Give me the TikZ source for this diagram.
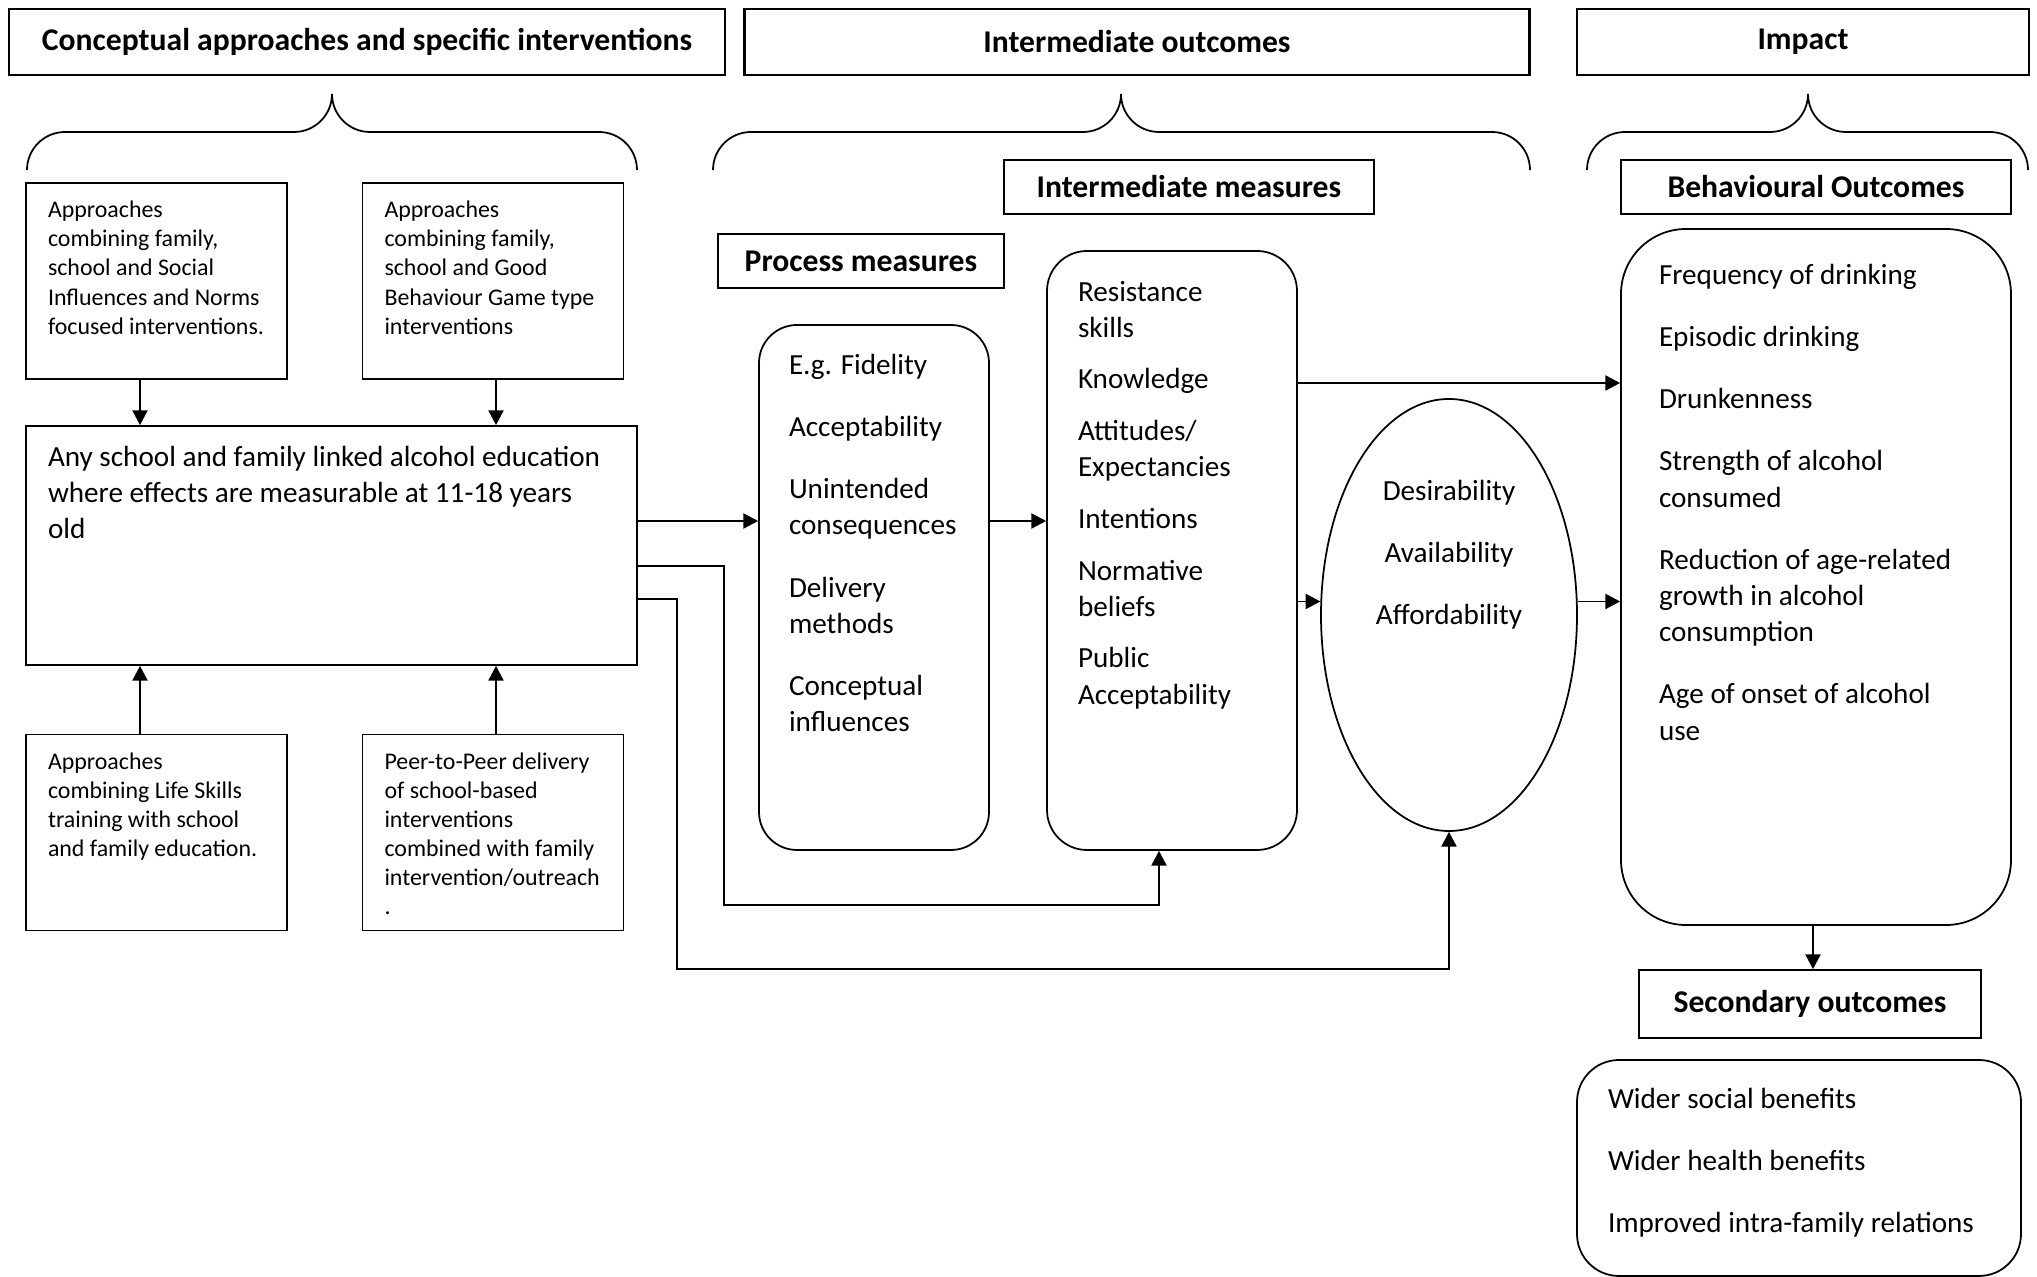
\documentclass[tikz,border=0pt]{standalone}
\usepackage{fontspec}
\setmainfont{Carlito}
\usepackage{tikz}
\usetikzlibrary{positioning, arrows.meta, shapes.geometric}

\begin{document}
\begin{tikzpicture}[line width=0.5pt,
    header/.style={draw, line width=0.7pt, font=\bfseries\fontsize{9}{11}\selectfont, minimum height=0.66cm, inner sep=0pt},
    tagbox/.style={draw, font=\bfseries\fontsize{9}{11}\selectfont, minimum height=0.54cm, inner sep=0pt},
    approach/.style={draw, minimum width=2.61cm, minimum height=1.96cm, inner sep=0pt},
    smalltext/.style={font=\fontsize{6.8}{8.3}\selectfont, align=left, inner sep=0pt},
    itemtext/.style={font=\fontsize{8.3}{10.3}\selectfont, align=left, inner sep=0pt},
    roundbox/.style={draw, rounded corners=0.38cm, inner sep=0pt},
    arr/.style={-{Triangle[length=4.2pt, width=4.3pt]}}]
    \useasboundingbox (0,0) rectangle (20.37,-12.77);

    % Headers
    \node[header, minimum width=7.16cm] (conc) at (3.67,-0.42) {Conceptual approaches and specific interventions};
    \node[header, minimum width=7.85cm] (interout) at (11.37,-0.42) {Intermediate outcomes};
    \node[header, minimum width=4.52cm] (impact) at (18.03,-0.42) {Impact};

    % Braces
    \draw[rounded corners=0.38cm] (0.27,-1.70) |- (3.32,-1.32) -- (3.32,-0.94);
    \draw[rounded corners=0.38cm] (6.37,-1.70) |- (3.32,-1.32) -- (3.32,-0.94);
    \draw[rounded corners=0.38cm] (7.13,-1.70) |- (11.21,-1.32) -- (11.21,-0.94);
    \draw[rounded corners=0.38cm] (15.30,-1.70) |- (11.21,-1.32) -- (11.21,-0.94);
    \draw[rounded corners=0.38cm] (15.87,-1.70) |- (18.08,-1.32) -- (18.08,-0.94);
    \draw[rounded corners=0.38cm] (20.28,-1.70) |- (18.08,-1.32) -- (18.08,-0.94);

    % Approaches
    \node[approach] (famsoc) at (1.565,-2.81) {};
    \node[smalltext, below right=0.18cm and 0.22cm of famsoc.north west] (famsoctext)
        {Approaches\\combining family,\\school and Social\\Influences and Norms\\focused interventions.};
    \node[approach] (famgood) at (4.93,-2.81) {};
    \node[smalltext, below right=0.18cm and 0.22cm of famgood.north west] (famgoodtext)
        {Approaches\\combining family,\\school and Good\\Behaviour Game type\\interventions};
    \node[approach] (lifeskill) at (1.565,-8.325) {};
    \node[smalltext, below right=0.18cm and 0.22cm of lifeskill.north west] (lifeskilltext)
        {Approaches\\combining Life Skills\\training with school\\and family education.};
    \node[approach] (peer) at (4.93,-8.325) {};
    \node[smalltext, below right=0.18cm and 0.22cm of peer.north west] (peertext)
        {Peer-to-Peer delivery\\of school-based\\interventions\\combined with family\\intervention/outreach\\.};

    % Education
    \node[draw, minimum width=6.11cm, minimum height=2.39cm] (educ) at (3.315,-5.455) {};
    \node[itemtext, below right=0.20cm and 0.22cm of educ.north west] (eductext)
        {Any school and family linked alcohol education\\where effects are measurable at 11-18 years\\old};

    \coordinate (xa) at (1.40,0);
    \coordinate (xb) at (4.96,0);
    \draw[arr] (famsoc.south -| xa) -- (educ.north -| xa);
    \draw[arr] (famgood.south -| xb) -- (educ.north -| xb);
    \draw[arr] (lifeskill.north -| xa) -- (educ.south -| xa);
    \draw[arr] (peer.north -| xb) -- (educ.south -| xb);

    % Process measures
    \node[tagbox, minimum width=2.86cm] (procl) at (8.61,-2.61) {Process measures};
    \node[roundbox, minimum width=2.30cm, minimum height=5.25cm] (proc) at (8.74,-5.875) {};
    \node[itemtext, below right=0.29cm and 0.30cm of proc.north west] (proctext)
        {E.g. Fidelity\\[7.4pt]Acceptability\\[7.4pt]Unintended\\consequences\\[7.4pt]Delivery\\methods\\[7.4pt]Conceptual\\influences};

    % Intermediate measures
    \node[tagbox, minimum width=3.70cm] (interml) at (11.89,-1.87) {Intermediate measures};
    \node[roundbox, rounded corners=0.40cm, minimum width=2.50cm, minimum height=5.99cm] (interm) at (11.72,-5.505) {};
    \node[itemtext, below right=0.30cm and 0.31cm of interm.north west] (intermtext)
        {Resistance\\skills\\[4.4pt]Knowledge\\[4.4pt]Attitudes/\\Expectancies\\[4.4pt]Intentions\\[4.4pt]Normative\\beliefs\\[4.4pt]Public\\Acceptability};

    % Desirability
    \node[draw, ellipse, minimum width=2.56cm, minimum height=4.32cm, inner sep=0pt] (ell) at (14.49,-6.15) {};
    \node[itemtext, align=center] (elltext) at (14.49,-5.545) {Desirability\\[7.4pt]Availability\\[7.4pt]Affordability};

    % Behavioural outcomes
    \node[tagbox, minimum width=3.90cm] (behavl) at (18.16,-1.87) {Behavioural Outcomes};
    \node[roundbox, rounded corners=0.65cm, minimum width=3.90cm, minimum height=6.96cm] (behav) at (18.16,-5.77) {};
    \node[itemtext, below right=0.35cm and 0.38cm of behav.north west] (behavtext)
        {Frequency of drinking\\[7.4pt]Episodic drinking\\[7.4pt]Drunkenness\\[7.4pt]Strength of alcohol\\consumed\\[7.4pt]Reduction of age-related\\growth in alcohol\\consumption\\[7.4pt]Age of onset of alcohol\\use};

    % Secondary outcomes
    \node[tagbox, minimum width=3.42cm, minimum height=0.68cm] (secl) at (18.10,-10.04) {Secondary outcomes};
    \node[roundbox, rounded corners=0.42cm, minimum width=4.44cm, minimum height=2.16cm] (sec) at (17.99,-11.68) {};
    \node[itemtext, below right=0.28cm and 0.31cm of sec.north west] (sectext)
        {Wider social benefits\\[7.4pt]Wider health benefits\\[7.4pt]Improved intra-family relations};

    % Connectors
    \coordinate (ya) at (0,-5.21);
    \coordinate (yb) at (0,-5.66);
    \coordinate (yc) at (0,-5.99);
    \coordinate (yd) at (0,-3.83);
    \coordinate (xc) at (11.59,0);
    \coordinate (xd) at (18.13,0);
    \draw[arr] (educ.east |- ya) -- (proc.west |- ya);
    \draw[arr] (proc.east |- ya) -- (interm.west |- ya);
    \draw[arr] (educ.east |- yb) -| (7.24,-9.05) -| (interm.south -| xc);
    \draw[arr] (educ.east |- yc) -| (6.77,-9.69) -| (ell.south);
    \draw[arr] (interm.east |- ell.174) -- (ell.174);
    \draw[arr] (interm.east |- yd) -- (behav.west |- yd);
    \draw[arr] (ell.6) -- (behav.west |- ell.6);
    \draw[arr] (behav.south -| xd) -- (secl.north -| xd);
\end{tikzpicture}
\end{document}
